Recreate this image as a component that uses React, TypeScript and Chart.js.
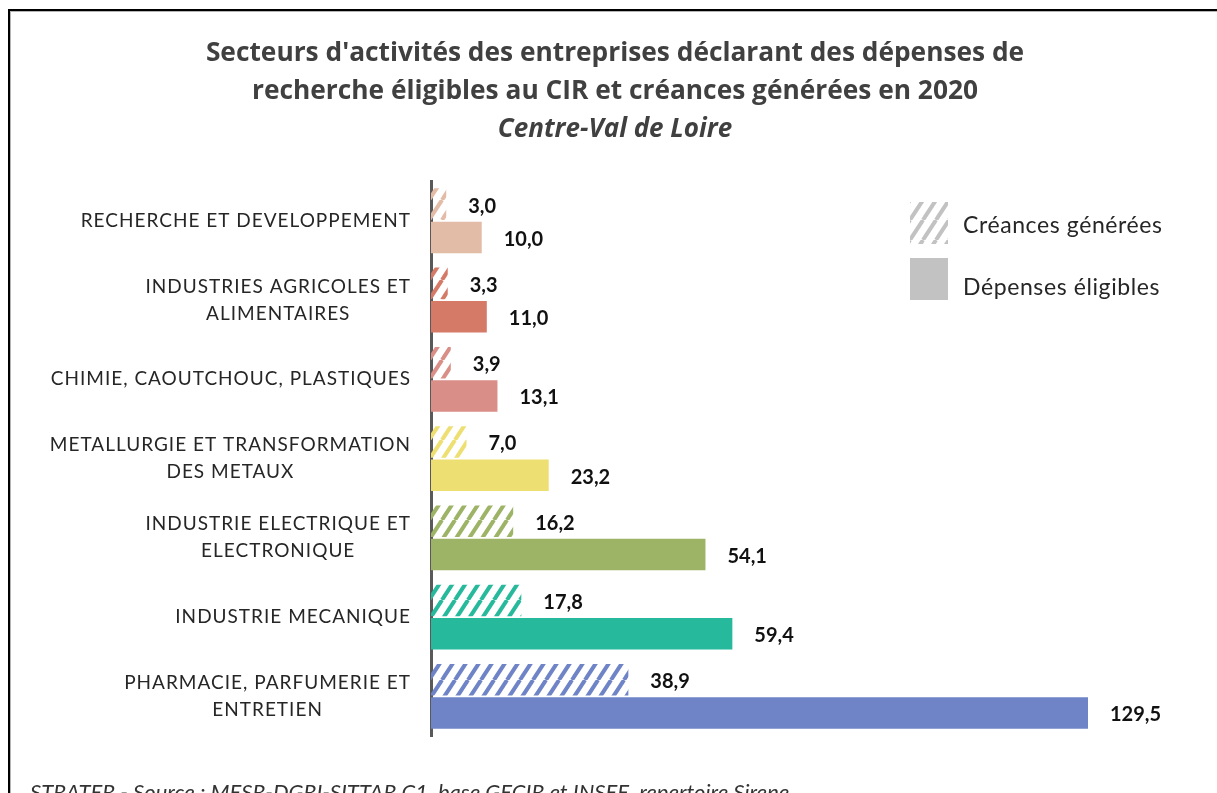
import React, { useEffect, useRef } from "react";
import { Chart, registerables } from "chart.js";

Chart.register(...registerables);

const categories: (string | string[])[] = [
  "RECHERCHE ET DEVELOPPEMENT",
  ["INDUSTRIES AGRICOLES ET", "ALIMENTAIRES"],
  "CHIMIE, CAOUTCHOUC, PLASTIQUES",
  ["METALLURGIE ET TRANSFORMATION", "DES METAUX"],
  ["INDUSTRIE ELECTRIQUE ET", "ELECTRONIQUE"],
  "INDUSTRIE MECANIQUE",
  ["PHARMACIE, PARFUMERIE ET", "ENTRETIEN"],
];
const creances = [3.0, 3.3, 3.9, 7.0, 16.2, 17.8, 38.9];
const depenses = [10.0, 11.0, 13.1, 23.2, 54.1, 59.4, 129.5];
const sectorColors = ["#e2bca6", "#d67a68", "#d98e88", "#eedf73", "#9db366", "#27b99b", "#6f84c7"];
const seriesNames = ["Créances générées", "Dépenses éligibles"];
const titleLines = [
  "Secteurs d'activités des entreprises déclarant des dépenses de",
  "recherche éligibles au CIR et créances générées en 2020",
];
const subtitleText = "Centre-Val de Loire";
const footerText = "STRATER - Source : MESR-DGRI-SITTAR C1, base GECIR et INSEE, repertoire Sirene";
const legendGrey = "#c2c2c2";

function makeHatch(ctx: CanvasRenderingContext2D, color: string): CanvasPattern {
  const w = 13;
  const h = 20;
  const c = document.createElement("canvas");
  c.width = w;
  c.height = h;
  const g = c.getContext("2d")!;
  g.strokeStyle = color;
  g.lineWidth = 4;
  g.lineCap = "butt";
  for (const off of [-w, 0, w]) {
    g.beginPath();
    g.moveTo(off, h);
    g.lineTo(off + w, 0);
    g.stroke();
  }
  return ctx.createPattern(c, "repeat") as CanvasPattern;
}

const fmt = (v: number) => v.toFixed(1).replace(".", ",");

export default function App() {
  const canvasRef = useRef<HTMLCanvasElement | null>(null);

  useEffect(() => {
    const canvas = canvasRef.current!;
    const ctx = canvas.getContext("2d")!;
    const patterns = sectorColors.map((c) => makeHatch(ctx, c));
    const legendPattern = makeHatch(ctx, legendGrey);

    const customDraw = {
      id: "customDraw",
      afterDraw(chart: any) {
        const c: any = chart.ctx;
        const yScale = chart.scales.y;
        // category labels
        c.save();
        c.font = "19px Lato";
        c.letterSpacing = "1px";
        c.fillStyle = "#262626";
        c.textBaseline = "middle";
        c.textAlign = "center";
        const rightEdge = chart.chartArea.left - 20;
        const lh = 27;
        categories.forEach((lab, i) => {
          const lines = Array.isArray(lab) ? lab : [lab];
          const y = yScale.getPixelForTick(i);
          const maxW = Math.max(...lines.map((l) => c.measureText(l).width));
          const cx = rightEdge - maxW / 2;
          lines.forEach((l, j) => {
            c.fillText(l, cx, y + (j - (lines.length - 1) / 2) * lh);
          });
        });
        c.restore();

        // value labels
        c.save();
        c.font = "bold 20px Lato";
        c.fillStyle = "#111";
        c.textBaseline = "middle";
        c.textAlign = "left";
        chart.data.datasets.forEach((ds: any, di: number) => {
          const meta = chart.getDatasetMeta(di);
          meta.data.forEach((bar: any, i: number) => {
            c.fillText(fmt(ds.data[i]), bar.x + 22, bar.y + 2);
          });
        });
        c.restore();

        // legend
        c.save();
        const lx = 910;
        const items = [
          { fill: legendPattern as any, y: 202, ty: 226 },
          { fill: legendGrey as any, y: 258, ty: 288 },
        ];
        c.font = "23px Lato";
        c.letterSpacing = "0.6px";
        c.textBaseline = "middle";
        items.forEach((it, k) => {
          c.fillStyle = it.fill;
          c.fillRect(lx, it.y, 38, 42);
          c.fillStyle = "#262626";
          c.fillText(seriesNames[k], lx + 53, it.ty);
        });
        c.restore();

        // footer
        c.save();
        c.font = "italic 22px Lato";
        c.fillStyle = "#333";
        c.textBaseline = "alphabetic";
        c.textAlign = "left";
        c.fillText(footerText, 30, 800);
        c.restore();
      },
    };

    const chart = new Chart(canvas, {
      type: "bar",
      data: {
        labels: categories as any,
        datasets: [
          {
            label: seriesNames[0],
            data: creances,
            backgroundColor: patterns as any,
            borderWidth: 0,
            categoryPercentage: 0.84,
            barPercentage: 0.95,
          },
          {
            label: seriesNames[1],
            data: depenses,
            backgroundColor: sectorColors,
            borderWidth: 0,
            categoryPercentage: 0.84,
            barPercentage: 0.95,
          },
        ],
      },
      options: {
        indexAxis: "y",
        responsive: false,
        animation: false,
        layout: { padding: { top: 15, left: 38, right: 25, bottom: 57 } },
        plugins: {
          legend: { display: false },
          tooltip: { enabled: false },
          title: {
            display: true,
            text: titleLines,
            color: "#404040",
            font: { family: "Open Sans", weight: "bold", size: 26.3, lineHeight: 1.44 },
            padding: { top: 20, bottom: 0 },
          },
          subtitle: {
            display: true,
            text: subtitleText,
            color: "#404040",
            font: { family: "Open Sans", weight: "bold", style: "italic", size: 26, lineHeight: 1.44 },
            padding: { top: 0, bottom: 33 },
          },
        },
        scales: {
          x: { display: false, min: 0, max: 150 },
          y: {
            display: true,
            grid: { display: false, drawTicks: false },
            border: { display: true, color: "#595959", width: 3 },
            ticks: { display: false },
            afterFit: (axis: any) => {
              axis.width = 393;
            },
          },
        },
      },
      plugins: [customDraw],
    });
    return () => chart.destroy();
  }, []);

  return (
    <div
      style={{
        position: "fixed",
        left: 0,
        top: 0,
        width: 1217,
        height: 793,
        background: "#fff",
        overflow: "hidden",
      }}
    >
      <canvas ref={canvasRef} width={1217} height={793} style={{ position: "absolute", left: 0, top: 0 }} />
      <div
        style={{
          position: "absolute",
          left: 8,
          top: 9,
          width: 1300,
          height: 900,
          borderTop: "2px solid #000",
          borderLeft: "2px solid #000",
          boxShadow: "inset 1px 1px 0 #b5b5b5",
          pointerEvents: "none",
        }}
      />
    </div>
  );
}
